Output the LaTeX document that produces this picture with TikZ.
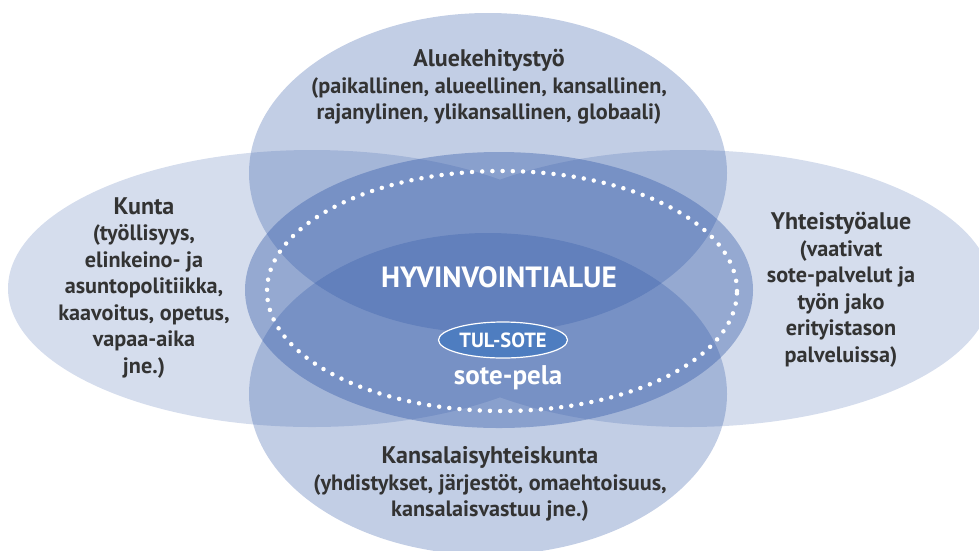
\documentclass[tikz,border=0pt]{standalone}
\usepackage{fontspec}
\usetikzlibrary{shapes.geometric}
\setmainfont{PT Sans}
\definecolor{basebl}{RGB}{45,85,165}
\definecolor{txt}{RGB}{51,51,51}
\definecolor{tulfill}{RGB}{78,125,192}
\newcommand{\ttlsize}{\fontsize{24}{26.5}\selectfont}
\tikzset{
  sidefill/.style={fill=basebl,fill opacity=0.2},
  vertfill/.style={fill=basebl,fill opacity=0.29},
  centfill/.style={fill=basebl,fill opacity=0.38},
  lbl/.style={text=txt,align=center,font=\fontsize{22.2}{26.5}\selectfont\bfseries},
}
\begin{document}
\begin{tikzpicture}[x=1pt,y=-1pt]
\useasboundingbox (0,0) rectangle (979,550);
\begin{scope}
\clip (0,0) rectangle (979,550);
% side ellipses (union, single opacity)
\fill[sidefill] (312,288.5) ellipse [x radius=304pt, y radius=138.5pt]
                (688,288.5) ellipse [x radius=304pt, y radius=138.5pt];
% top and bottom
\fill[vertfill] (488,173) ellipse [x radius=239pt, y radius=160pt];
\fill[vertfill] (488,394) ellipse [x radius=239pt, y radius=161pt];
% centre
\fill[centfill] (499,290) ellipse [x radius=254pt, y radius=138pt];
% dotted ring
\draw[white,line width=4.5pt,line cap=round,dash pattern=on 0pt off 10.2pt]
  (502,291) ellipse [x radius=235pt, y radius=120pt];
\end{scope}
% labels
\node[lbl] (top) at (489,87) {{\ttlsize Aluekehitystyö}\\(paikallinen, alueellinen, kansallinen,\\rajanylinen, ylikansallinen, globaali)};
\node[lbl] (left) at (144,288) {{\ttlsize Kunta}\\(työllisyys,\\elinkeino- ja\\asuntopolitiikka,\\kaavoitus, opetus,\\vapaa-aika\\jne.)};
\node[lbl] (right) at (841,290) {{\ttlsize Yhteistyöalue}\\(vaativat\\sote-palvelut ja\\työn jako\\erityistason\\palveluissa)};
\node[lbl] (bottom) at (490,484) {{\ttlsize Kansalaisyhteiskunta}\\(yhdistykset, järjestöt, omaehtoisuus,\\kansalaisvastuu jne.)};
\node[text=white,font=\fontsize{29.3}{32}\selectfont\bfseries] (hva) at (499,277) {HYVINVOINTIALUE};
\node[draw=white,line width=1.2pt,fill=tulfill,ellipse,minimum width=129pt,minimum height=36pt,inner sep=0pt,text=white,font=\fontsize{20.5}{22}\selectfont\bfseries] (tul) at (503,340) {TUL-SOTE};
\node[text=white,font=\fontsize{27}{30}\selectfont\bfseries] (sote) at (508,378) {sote-pela};
\end{tikzpicture}
\end{document}
